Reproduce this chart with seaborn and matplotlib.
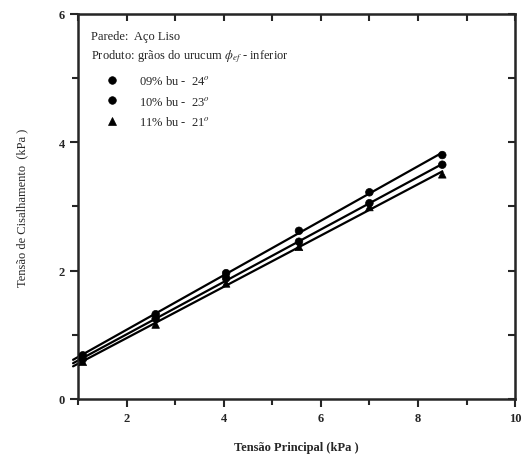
import matplotlib.pyplot as plt
from matplotlib.ticker import MultipleLocator
import seaborn as sns
import numpy as np
import pandas as pd

# data
tensao_principal = [1.1, 2.6, 4.05, 5.55, 7.0, 8.5]
tau_09 = [0.68, 1.32, 1.96, 2.62, 3.22, 3.80]
tau_10 = [0.62, 1.25, 1.88, 2.45, 3.05, 3.65]
tau_11 = [0.58, 1.16, 1.80, 2.37, 2.99, 3.50]
series_names = ["09% bu -  24$^o$", "10% bu -  23$^o$", "11% bu -  21$^o$"]
series_markers = ["o", "o", "^"]

df = pd.DataFrame({
    "x": tensao_principal * 3,
    "y": tau_09 + tau_10 + tau_11,
    "serie": [series_names[0]] * 6 + [series_names[1]] * 6 + [series_names[2]] * 6,
})

sns.set_style("ticks")
plt.rcParams["font.family"] = ["Liberation Serif", "DejaVu Serif"]
plt.rcParams["mathtext.fontset"] = "stix"

fig = plt.figure(figsize=(5.23, 4.64), dpi=100)
ax = fig.add_axes([0.149, 0.138, 0.836, 0.830])

# fitted lines (linear regression of each series)
for ys in [tau_09, tau_10, tau_11]:
    a, b = np.polyfit(tensao_principal, ys, 1)
    xx = np.array([0.9, 8.5])
    ax.plot(xx, a * xx + b, color="black", lw=1.6, clip_on=False, zorder=2)

sns.scatterplot(data=df, x="x", y="y", hue="serie", style="serie",
                markers=dict(zip(series_names, series_markers)),
                palette=["black"] * 3, s=30, edgecolor="black",
                linewidth=0.5, ax=ax, zorder=3, clip_on=False)

ax.set_xlim(1, 10)
ax.set_ylim(0, 6)
ax.xaxis.set_major_locator(MultipleLocator(2))
ax.xaxis.set_minor_locator(MultipleLocator(1))
ax.yaxis.set_major_locator(MultipleLocator(2))
ax.yaxis.set_minor_locator(MultipleLocator(1))
ax.set_xticks([2, 4, 6, 8, 10])
ax.tick_params(which="major", direction="out", length=6, width=1.5, labelsize=9)
ax.tick_params(which="minor", direction="out", length=4, width=1.5)
for lab in ax.get_xticklabels() + ax.get_yticklabels():
    lab.set_fontweight("bold")
for sp in ax.spines.values():
    sp.set_linewidth(1.8)
    sp.set_visible(True)

# inward ticks on top and right
top = ax.secondary_xaxis("top")
top.xaxis.set_major_locator(MultipleLocator(1))
top.tick_params(direction="in", length=5, width=1.5, labeltop=False)
right = ax.secondary_yaxis("right")
right.yaxis.set_major_locator(MultipleLocator(1))
right.tick_params(direction="in", length=5, width=1.5, labelright=False)

ax.set_xlabel("Tensão Principal (kPa )", fontsize=9, fontweight="bold", labelpad=12)
ax.set_ylabel("Tensão de Cisalhamento  (kPa )", fontsize=9, labelpad=22)

ax.text(0.03, 0.935, "Parede:  Aço Liso", transform=ax.transAxes, fontsize=9)
ax.text(0.03, 0.885, r"Produto: grãos do urucum $\phi_{ef}$ - inferior",
        transform=ax.transAxes, fontsize=9)
ax.legend(loc="upper left", bbox_to_anchor=(0.035, 0.86), frameon=False,
          fontsize=9, handletextpad=1.2, labelspacing=0.6, borderpad=0,
          title=None)

fig.savefig("out.png", dpi=100)
